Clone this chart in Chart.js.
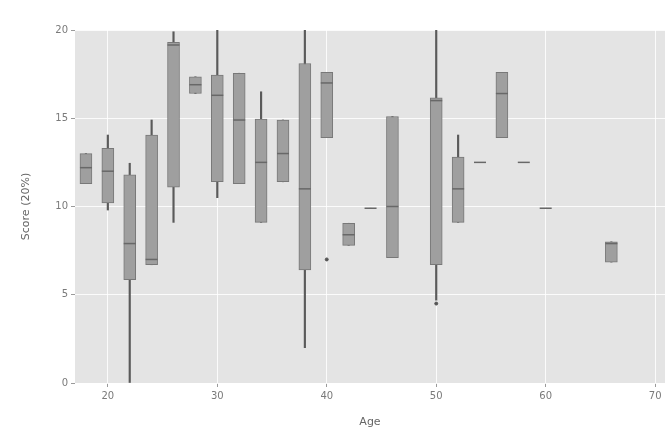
<!DOCTYPE html>
<html>
<head>
<meta charset="utf-8">
<script src="https://cdn.jsdelivr.net/npm/chart.js@4/dist/chart.umd.min.js"></script>
<style>
  html, body { margin: 0; padding: 0; background: #ffffff; }
  #wrap { width: 665px; height: 434px; }
</style>
</head>
<body>
<div id="wrap"><canvas id="c" width="665" height="434"></canvas></div>
<script>
// Score distribution per age group (box = quartiles, line = median, whiskers = range)
const ages        = [18, 20, 22, 24, 26, 28, 30, 32, 34, 36, 38, 40, 42, 44, 46, 50, 52, 54, 56, 58, 60, 66];
const q1          = [11.3, 10.2, 5.85, 6.7, 11.1, 16.4, 11.4, 11.3, 9.1, 11.4, 6.4, 13.9, 7.8, 9.9, 7.1, 6.7, 9.1, 12.5, 13.9, 12.5, 9.9, 6.85];
const q3          = [13.0, 13.3, 11.8, 14.05, 19.3, 17.35, 17.45, 17.55, 14.95, 14.9, 18.1, 17.6, 9.05, 9.9, 15.1, 16.15, 12.8, 12.5, 17.6, 12.5, 9.9, 8.0];
const medians     = [12.2, 12.0, 7.9, 7.0, 19.15, 16.9, 16.3, 14.9, 12.5, 13.0, 11.0, 17.0, 8.4, 9.9, 10.0, 16.0, 11.0, 12.5, 16.4, 12.5, 9.9, 7.9];
const whiskerLow  = [11.3, 9.8, 0, 6.7, 9.1, 16.4, 10.5, 11.3, 9.1, 11.4, 2.0, 13.9, 7.8, 9.9, 7.1, 4.7, 9.1, 12.5, 13.9, 12.5, 9.9, 6.85];
const whiskerHigh = [13.0, 14.05, 12.45, 14.9, 19.9, 17.35, 20, 17.55, 16.5, 14.9, 20, 17.6, 9.05, 9.9, 15.1, 20, 14.05, 12.5, 17.6, 12.5, 9.9, 8.0];
const outlierAges   = [40, 50];
const outlierScores = [7.0, 4.5];

const xTicks = [20, 30, 40, 50, 60, 70];
const yTicks = [0, 5, 10, 15, 20];

const panelBackground = {
  id: 'panelBackground',
  beforeDraw(chart) {
    const { ctx, chartArea: a } = chart;
    ctx.save();
    ctx.fillStyle = '#e4e4e4';
    ctx.fillRect(a.left, a.top, a.right - a.left, a.bottom - a.top);
    ctx.restore();
  }
};

const whiskerData = ages.map((a, i) => ({ x: a, y: [whiskerLow[i], whiskerHigh[i]] }));
const boxData     = ages.map((a, i) => ({ x: a, y: [q1[i], q3[i]] }));
const medianData  = ages.map((a, i) => ({ x: a, y: medians[i] }));
const outlierData = outlierAges.map((a, i) => ({ x: a, y: outlierScores[i] }));

new Chart(document.getElementById('c'), {
  type: 'bar',
  data: {
    datasets: [
      {
        label: 'range',
        data: whiskerData,
        backgroundColor: '#5a5a5a',
        borderWidth: 0,
        barThickness: 1.5,
        grouped: false,
        order: 3
      },
      {
        label: 'quartiles',
        data: boxData,
        backgroundColor: '#9f9f9f',
        borderColor: '#787878',
        borderWidth: 1,
        borderSkipped: false,
        barThickness: 12,
        grouped: false,
        order: 2
      },
      {
        type: 'scatter',
        label: 'median',
        data: medianData,
        pointStyle: 'line',
        radius: 6,
        borderColor: '#686868',
        borderWidth: 1.5,
        order: 1
      },
      {
        type: 'scatter',
        label: 'outliers',
        data: outlierData,
        pointStyle: 'circle',
        radius: 1.5,
        backgroundColor: '#555555',
        borderColor: '#555555',
        order: 0
      }
    ]
  },
  options: {
    responsive: false,
    animation: false,
    devicePixelRatio: 1,
    layout: { autoPadding: false, padding: { top: 30, right: 0, bottom: 0, left: 0 } },
    plugins: { legend: { display: false }, tooltip: { enabled: false } },
    scales: {
      x: {
        type: 'linear',
        min: 17,
        max: 70.9,
        offset: false,
        grid: { offset: false, color: 'rgba(255,255,255,0.85)', lineWidth: 1, tickLength: 4, tickColor: '#9a9a9a' },
        border: { display: false },
        ticks: { color: '#7a7a7a', font: { family: 'DejaVu Sans', size: 10 }, padding: 3, maxRotation: 0 },
        afterBuildTicks: s => { s.ticks = xTicks.map(v => ({ value: v })); },
        afterFit: s => { s.height = 51; s.paddingLeft = 0; s.paddingRight = 0; },
        title: { display: true, text: 'Age', color: '#666666', font: { family: 'DejaVu Sans', size: 11 }, padding: { top: 0, bottom: 5 } }
      },
      y: {
        type: 'linear',
        min: 0,
        max: 20,
        grid: { color: 'rgba(255,255,255,0.85)', lineWidth: 1, tickLength: 4, tickColor: '#9a9a9a' },
        border: { display: false },
        ticks: { color: '#7a7a7a', font: { family: 'DejaVu Sans', size: 10 }, padding: 3 },
        afterBuildTicks: s => { s.ticks = yTicks.map(v => ({ value: v })); },
        afterFit: s => { s.width = 75; s.paddingTop = 0; s.paddingBottom = 0; },
        title: { display: true, text: 'Score (20%)', color: '#666666', font: { family: 'DejaVu Sans', size: 11 }, padding: { top: 20, bottom: 0 } }
      }
    }
  },
  plugins: [panelBackground]
});
</script>
</body>
</html>
